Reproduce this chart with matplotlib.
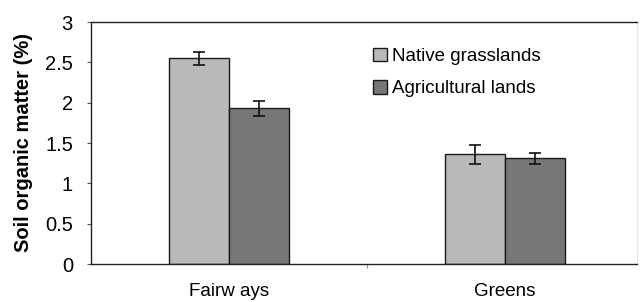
import numpy as np
import matplotlib

matplotlib.use('Agg')
from matplotlib import pyplot as plt

sites = ['Fairw ays', 'Greens']
series = ['Native grasslands', 'Agricultural lands']
native = [2.55, 1.36]
native_err = [0.08, 0.12]
agri = [1.93, 1.31]
agri_err = [0.09, 0.07]
yticks = [0, 0.5, 1, 1.5, 2, 2.5, 3]
ytick_labels = ['0', '0.5', '1', '1.5', '2', '2.5', '3']

plt.rcParams['font.family'] = ['Liberation Sans', 'DejaVu Sans']

fig = plt.figure(figsize=(6.4, 3.02), dpi=100)
ax = fig.add_axes([91 / 640, 1 - 264 / 302, (637 - 91) / 640, (264 - 22) / 302])

x = np.arange(len(sites))
w = 0.217
ax.bar(x - w / 2, native, w, color='#b9b9b9', edgecolor='#1a1a1a', linewidth=1.0,
       yerr=native_err, capsize=4, error_kw={'elinewidth': 1.2, 'capthick': 1.2, 'ecolor': '#111111'},
       label=series[0])
ax.bar(x + w / 2, agri, w, color='#777777', edgecolor='#1a1a1a', linewidth=1.0,
       yerr=agri_err, capsize=4, error_kw={'elinewidth': 1.2, 'capthick': 1.2, 'ecolor': '#111111'},
       label=series[1])

ax.set_xlim(-0.5, 1.478)
ax.set_ylim(0, 3)
ax.set_yticks(yticks)
ax.set_yticklabels(ytick_labels, fontsize=14.5)
ax.set_xticks([0.5])
ax.set_xticklabels([''])
ax.set_xticks(x, minor=True)
ax.set_xticklabels(sites, minor=True, fontsize=13.5)
ax.tick_params(axis='x', which='minor', length=0, pad=14)
ax.tick_params(axis='x', which='major', length=3, direction='out', color='#999999')
ax.tick_params(axis='y', length=3, direction='out', pad=10, color='#555555')

for side in ['left', 'bottom', 'top']:
    ax.spines[side].set_color('#222222')
    ax.spines[side].set_linewidth(1.0)
ax.spines['right'].set_color('#e6e6e6')

ax.set_ylabel('Soil organic matter (%)', fontsize=14.5, fontweight='bold', labelpad=9)

ax.legend(loc='upper left', bbox_to_anchor=(0.503, 0.925), frameon=False, fontsize=13.5,
          handlelength=0.75, handleheight=0.75, handletextpad=0.25, labelspacing=0.8,
          borderaxespad=0)

fig.savefig('out.png', dpi=100)
